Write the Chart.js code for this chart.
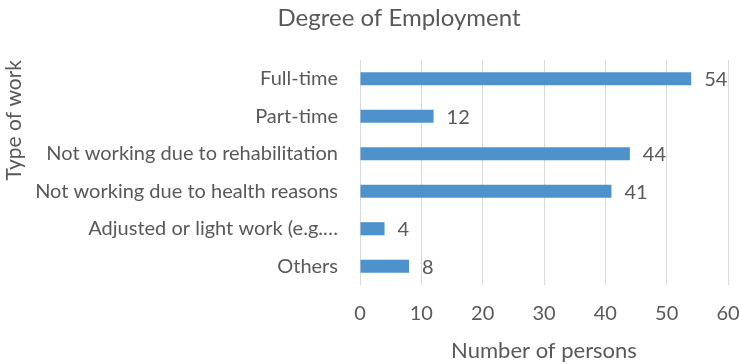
<!DOCTYPE html>
<html>
<head>
<meta charset="utf-8">
<script src="https://cdn.jsdelivr.net/npm/chart.js@4/dist/chart.umd.min.js"></script>
<style>
  html, body { margin: 0; padding: 0; background: #fff; }
  #wrap { width: 739px; height: 364px; }
</style>
</head>
<body>
<div id="wrap"><canvas id="graficoEmpleo"></canvas></div>
<script>
// Datos del gráfico
const categorias = [
    'Full-time',
    'Part-time',
    'Not working due to rehabilitation',
    'Not working due to health reasons',
    'Adjusted or light work (e.g.…',
    'Others'
];
const personas = [54, 12, 44, 41, 4, 8];
const ticksX = [0, 10, 20, 30, 40, 50, 60];

const fuente = 'Lato, "Open Sans", sans-serif';
const gris = '#595959';

// Título centrado un poco a la derecha, como en la hoja original
const tituloPlugin = {
    id: 'tituloPlugin',
    afterDraw(chart) {
        const ctx = chart.ctx;
        ctx.save();
        ctx.font = '24px ' + fuente;
        ctx.fillStyle = gris;
        ctx.textAlign = 'center';
        ctx.textBaseline = 'middle';
        ctx.fillText('Degree of Employment', chart.width * 0.54, 18);
        ctx.restore();
    }
};

// Etiquetas de valor al final de cada barra
const etiquetasPlugin = {
    id: 'etiquetasPlugin',
    afterDatasetsDraw(chart) {
        const ctx = chart.ctx;
        const meta = chart.getDatasetMeta(0);
        ctx.save();
        ctx.font = '20px ' + fuente;
        ctx.fillStyle = gris;
        ctx.textAlign = 'left';
        ctx.textBaseline = 'middle';
        meta.data.forEach((bar, i) => {
            ctx.fillText(String(personas[i]), bar.x + 13, bar.y + 1);
        });
        ctx.restore();
    }
};

const ctx = document.getElementById('graficoEmpleo').getContext('2d');

new Chart(ctx, {
    type: 'bar',
    data: {
        labels: categorias,
        datasets: [{
            data: personas,
            backgroundColor: '#4e92cb',
            borderWidth: 0,
            categoryPercentage: 1,
            barPercentage: 0.35
        }]
    },
    options: {
        indexAxis: 'y',
        responsive: true,
        maintainAspectRatio: false,
        animation: false,
        layout: {
            padding: { top: 60, right: 11, bottom: 0, left: 2 }
        },
        scales: {
            x: {
                min: 0,
                max: 60,
                afterBuildTicks(scale) {
                    scale.ticks = ticksX.map(v => ({ value: v }));
                },
                grid: {
                    color: '#d9d9d9',
                    lineWidth: 1,
                    drawTicks: false
                },
                border: { display: false },
                ticks: {
                    color: gris,
                    font: { family: fuente, size: 20 },
                    padding: 17
                },
                title: {
                    display: true,
                    text: 'Number of persons',
                    color: gris,
                    font: { family: fuente, size: 22 },
                    padding: { top: 5, bottom: 0 }
                },
                afterFit(scale) {
                    scale.height = 79;
                    scale.paddingLeft = 0;
                    scale.paddingRight = 0;
                }
            },
            y: {
                grid: { display: false, drawTicks: false },
                border: { display: false },
                ticks: {
                    color: gris,
                    font: { family: fuente, size: 20 },
                    padding: 22
                },
                title: {
                    display: true,
                    text: 'Type of work',
                    align: 'end',
                    color: gris,
                    font: { family: fuente, size: 21 },
                    padding: { top: 0, bottom: 0 }
                },
                afterFit(scale) {
                    scale.width = 358;
                }
            }
        },
        plugins: {
            legend: { display: false },
            tooltip: { enabled: false },
            title: { display: false }
        }
    },
    plugins: [tituloPlugin, etiquetasPlugin]
});
</script>
</body>
</html>
